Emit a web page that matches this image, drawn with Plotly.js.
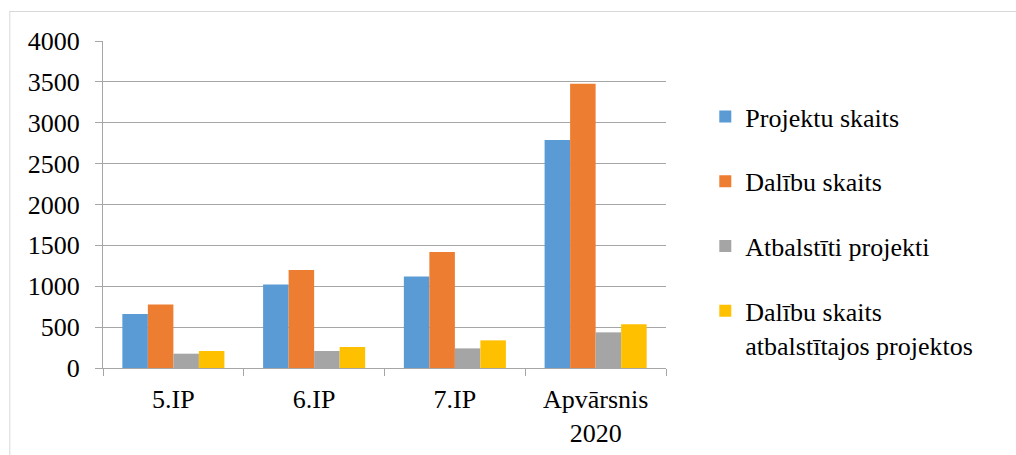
<!DOCTYPE html>
<html>
<head>
<meta charset="utf-8">
<script src="https://cdn.plot.ly/plotly-3.0.1.min.js"></script>
<style>html,body{margin:0;padding:0;background:#fff;}#chart{width:1016px;height:455px;}</style>
</head>
<body>
<div id="chart"></div>
<script>
const categories = ["5.IP", "6.IP", "7.IP", "Apvārsnis<br>2020"];
const seriesNames = ["Projektu skaits", "Dalību skaits", "Atbalstīti projekti", "Dalību skaits<br>atbalstītajos projektos"];
const projektuSkaits = [661, 1020, 1120, 2790];
const dalibuSkaits = [778, 1200, 1420, 3478];
const atbalstitiProjekti = [175, 208, 240, 436];
const dalibuAtbalstitajos = [208, 257, 338, 534];
const colors = ["#5b9bd5", "#ed7d31", "#a5a5a5", "#ffc000"];
const yTicks = [0, 500, 1000, 1500, 2000, 2500, 3000, 3500, 4000];

const allValues = [projektuSkaits, dalibuSkaits, atbalstitiProjekti, dalibuAtbalstitajos];
const traces = allValues.map((vals, i) => ({
  type: "bar",
  x: categories,
  y: vals,
  name: seriesNames[i],
  legendgroup: "g" + i,
  marker: {color: colors[i]},
  hoverinfo: "y"
}));

const font = {family: "Liberation Serif", size: 26, color: "#000"};
const L = 102.7, R = 665.7, T = 41, B = 368;
const W = R - L, H = B - T;
const px = v => (v - L) / W;
const py = v => (B - v) / H;

const layout = {
  width: 1016, height: 455,
  margin: {l: L, r: 1016 - R, t: T, b: 455 - B, pad: 0},
  paper_bgcolor: "#fff", plot_bgcolor: "#fff",
  font: font,
  barmode: "group",
  bargap: 0.275,
  bargroupgap: 0,
  showlegend: true,
  legend: {
    x: px(705), xanchor: "left",
    y: py(93), yanchor: "top",
    traceorder: "grouped",
    tracegroupgap: 28,
    valign: "top",
    font: font,
    itemclick: false
  },
  xaxis: {
    type: "category",
    showgrid: false,
    showline: true, linecolor: "#a6a6a6", linewidth: 1,
    ticks: "outside", tickson: "boundaries", ticklen: 7, tickcolor: "#a6a6a6",
    tickfont: font,
    ticklabelstandoff: 8,
    fixedrange: true
  },
  yaxis: {
    range: [0, 4000],
    tickvals: yTicks,
    ticktext: yTicks.map(String),
    showgrid: true, gridcolor: "#a6a6a6", gridwidth: 1,
    zeroline: false,
    showline: true, linecolor: "#a6a6a6", linewidth: 1,
    ticks: "outside", ticklen: 7, tickcolor: "#a6a6a6",
    tickfont: font,
    ticklabelstandoff: 10,
    fixedrange: true
  },
  shapes: [
    {type: "line", xref: "paper", yref: "paper", x0: px(9), x1: px(1020), y0: py(11.5), y1: py(11.5), line: {color: "#d9d9d9", width: 1}},
    {type: "line", xref: "paper", yref: "paper", x0: px(9.5), x1: px(9.5), y0: py(11), y1: py(460), line: {color: "#d9d9d9", width: 1}}
  ]
};

Plotly.newPlot("chart", traces, layout, {displayModeBar: false, staticPlot: true});
</script>
</body>
</html>
